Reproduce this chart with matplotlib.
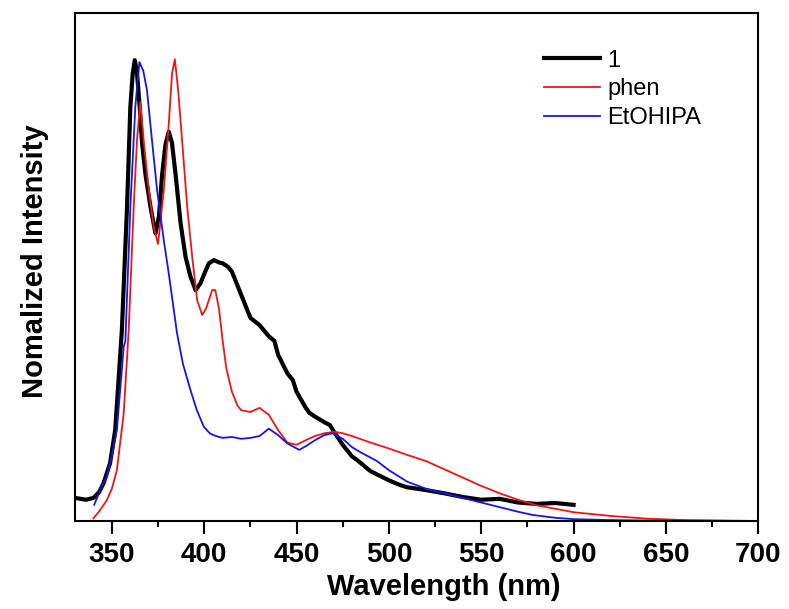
import matplotlib.pyplot as plt
from matplotlib.ticker import MultipleLocator

plt.rcParams['font.family'] = ['Liberation Sans', 'DejaVu Sans']

# compound 1
wl_1 = [330, 333, 336, 340, 343, 345.5, 349, 351.8, 353.6, 355.4, 358.2, 360, 361.3, 362.4,
        363.5, 365, 366.3, 368.2, 370.9, 373.6, 375.5, 377.2, 379, 380.8, 382.5, 384.5,
        387.2, 389.9, 392.5, 395.3, 398, 400, 402.5, 405.3, 408, 410, 413, 415, 418, 420,
        425, 430, 435, 438, 440, 445, 448, 450, 455, 457, 460, 465, 468, 470, 475, 480,
        482.5, 490, 500, 506, 510, 520, 530, 540, 550, 560, 570, 580, 590, 600]
int_1 = [0.05, 0.048, 0.046, 0.05, 0.062, 0.082, 0.125, 0.197, 0.305, 0.413, 0.68, 0.897,
         0.97, 0.998, 0.975, 0.9, 0.82, 0.75, 0.68, 0.623, 0.66, 0.75, 0.815, 0.843, 0.82,
         0.75, 0.645, 0.572, 0.53, 0.5, 0.515, 0.535, 0.558, 0.565, 0.56, 0.558, 0.55,
         0.54, 0.51, 0.49, 0.44, 0.424, 0.40, 0.39, 0.36, 0.32, 0.305, 0.28, 0.245, 0.234,
         0.226, 0.214, 0.208, 0.195, 0.165, 0.14, 0.133, 0.108, 0.088, 0.078, 0.073, 0.067,
         0.06, 0.052, 0.046, 0.048, 0.04, 0.037, 0.039, 0.035]

# phen
wl_phen = [340, 343, 347.3, 350, 352.7, 356.4, 359.1, 361.8, 363.6, 365.4, 367.2, 370,
           372.7, 375, 378.1, 380.8, 382.6, 384.1, 385.9, 388, 390.8, 393.5, 396.2, 398.9,
           401, 404.3, 406, 408, 410, 412, 415, 418, 420, 425, 430, 435, 440, 445, 450, 455,
           460, 465, 470.5, 475, 480, 490, 500, 510, 520, 530, 540, 550, 560, 570, 580, 600,
           620, 640, 660, 680, 700]
int_phen = [0.006, 0.02, 0.045, 0.07, 0.11, 0.233, 0.413, 0.68, 0.825, 0.908, 0.825, 0.716,
            0.637, 0.60, 0.716, 0.86, 0.97, 1.0, 0.933, 0.825, 0.68, 0.572, 0.478, 0.446,
            0.46, 0.5, 0.5, 0.46, 0.39, 0.33, 0.28, 0.25, 0.24, 0.236, 0.245, 0.23, 0.197,
            0.17, 0.165, 0.175, 0.184, 0.19, 0.193, 0.19, 0.184, 0.17, 0.157, 0.143, 0.13,
            0.112, 0.094, 0.076, 0.06, 0.046, 0.034, 0.019, 0.011, 0.005, 0.002, 0.001, 0.0]

# EtOHIPA
wl_et = [340.4, 344, 347.3, 350, 352.7, 356.4, 357.3, 360, 362.7, 364.9, 367, 369, 371.7,
         374.5, 378.1, 380.8, 385.3, 388.5, 392.6, 396, 399.8, 403, 405, 408, 410, 415,
         420, 425, 430, 435, 440, 445, 451.5, 455, 460, 465, 469.5, 475, 480, 485, 493.5,
         500, 510, 520, 530, 540, 550, 560, 570, 578, 590, 600, 620, 640, 700]
int_et = [0.035, 0.07, 0.096, 0.14, 0.197, 0.377, 0.39, 0.68, 0.897, 0.994, 0.975, 0.933,
          0.825, 0.716, 0.608, 0.536, 0.406, 0.34, 0.283, 0.24, 0.204, 0.19, 0.186, 0.182,
          0.18, 0.182, 0.178, 0.18, 0.184, 0.2, 0.186, 0.168, 0.154, 0.162, 0.175, 0.186,
          0.19, 0.178, 0.16, 0.148, 0.13, 0.11, 0.085, 0.07, 0.06, 0.05, 0.04, 0.03, 0.02,
          0.013, 0.007, 0.004, 0.002, 0.001, 0.0]

fig = plt.figure(figsize=(7.89, 6.09), dpi=100)
ax = fig.add_axes([0.095, 0.1445, 0.866, 0.834])

ax.plot(wl_1, int_1, color='black', lw=3, label='1')
ax.plot(wl_phen, int_phen, color='#f01515', lw=1.3, label='phen')
ax.plot(wl_et, int_et, color='#1515e8', lw=1.3, label='EtOHIPA')

ax.set_xlim(330, 700)
ax.set_ylim(0, 1.1)
ax.xaxis.set_major_locator(MultipleLocator(50))
ax.xaxis.set_minor_locator(MultipleLocator(25))
ax.set_yticks([])
ax.tick_params(axis='x', which='major', direction='out', length=9, width=1.5,
               labelsize=20, pad=6)
ax.tick_params(axis='x', which='minor', direction='out', length=4.5, width=1.5)
for lbl in ax.get_xticklabels():
    lbl.set_fontweight('bold')
for sp in ax.spines.values():
    sp.set_linewidth(1.5)

ax.set_xlabel('Wavelength (nm)', fontsize=21, fontweight='bold')
ax.xaxis.set_label_coords(0.54, -0.102)
ax.set_ylabel('Nomalized Intensity', fontsize=21, fontweight='bold')
ax.yaxis.set_label_coords(-0.038, 0.512)

ax.legend(loc='upper left', bbox_to_anchor=(0.655, 0.97), frameon=False, fontsize=17,
          handlelength=2.4, handletextpad=0.3, labelspacing=0.28)

fig.savefig('out.png', dpi=100)
